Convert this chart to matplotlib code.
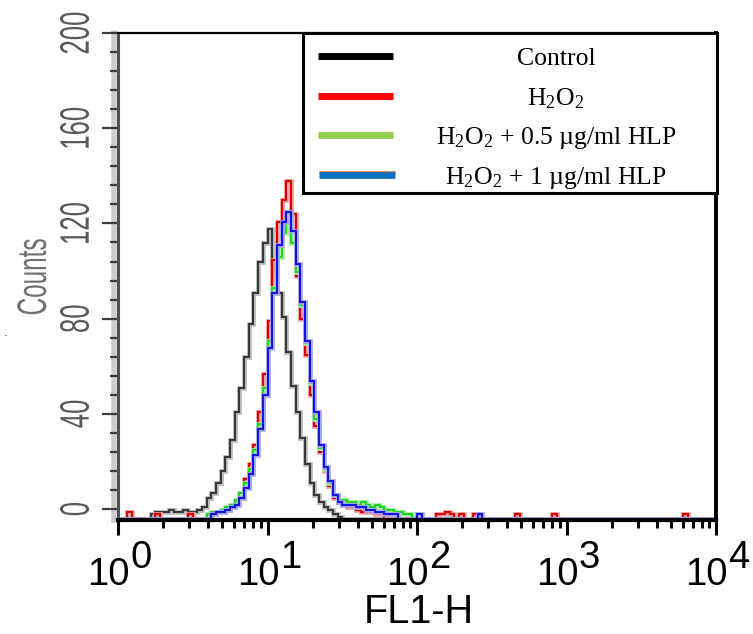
import numpy as np
import matplotlib
matplotlib.use("Agg")
import matplotlib.pyplot as plt
from matplotlib import transforms, patheffects
from matplotlib.patches import Rectangle
from matplotlib.ticker import LogLocator, NullFormatter, MultipleLocator

# histogram channels: 32 bins per decade, 10^0 .. 10^4
bins_per_decade = 32
n_bins = 128

# counts for bins 0..63 (10^0 .. 10^2)
control = [0, 0, 0, 0, 0, 0, 0, 2, 3, 3,
           3, 4, 3, 3, 4, 3, 3, 4, 5, 9,
           11, 15, 20, 26, 33, 45, 55, 68, 82, 95,
           108, 116, 122, 104, 95, 85, 70, 56, 45, 34,
           23, 15, 10, 7, 5, 4, 2, 1, 0, 0,
           0, 0, 0, 0, 0, 0, 0, 0, 0, 0, 0, 0, 0, 0]
h2o2 = [0, 0, 3, 0, 0, 0, 0, 0, 2, 0,
        0, 0, 0, 0, 0, 2, 0, 0, 0, 0,
        2, 3, 3, 4, 5, 7, 11, 17, 23, 31,
        45, 61, 83, 109, 125, 134, 142, 128, 102, 84,
        69, 52, 39, 28, 20, 14, 9, 7, 6, 5,
        5, 4, 3, 3, 3, 2, 2, 0, 0, 0, 0, 0, 0, 0]
hlp_05 = [0, 0, 0, 0, 0, 0, 0, 0, 0, 0,
          0, 0, 0, 0, 0, 0, 0, 0, 0, 2,
          3, 3, 4, 5, 6, 8, 11, 15, 21, 29,
          40, 55, 75, 97, 110, 120, 125, 116, 104, 90,
          74, 57, 42, 30, 21, 15, 10, 8, 8, 7,
          7, 6, 7, 6, 5, 6, 5, 4, 4, 3, 3, 2, 2, 0]
hlp_1 = [0, 0, 0, 0, 0, 0, 0, 0, 0, 0,
         0, 0, 0, 0, 0, 0, 0, 0, 0, 0,
         2, 3, 3, 4, 5, 6, 9, 13, 19, 27,
         38, 52, 72, 95, 115, 125, 129, 121, 107, 91,
         75, 58, 45, 31, 22, 16, 10, 7, 6, 6,
         6, 5, 5, 4, 4, 3, 3, 2, 2, 2, 0, 0, 0, 0]
# sparse events above 10^2 {bin: count}
h2o2_tail = {68: 2, 69: 2, 70: 3, 71: 2, 73: 2, 76: 2, 85: 2, 93: 2, 121: 2}
hlp_1_tail = {64: 2, 77: 2}

legend_labels = ["Control", r"H$_2$O$_2$", r"H$_2$O$_2$ + 0.5 µg/ml HLP",
                 r"H$_2$O$_2$ + 1 µg/ml HLP"]
decades = [0, 1, 2, 3, 4]

plt.rcParams["mathtext.fontset"] = "custom"
plt.rcParams["mathtext.rm"] = "Liberation Serif"
plt.rcParams["mathtext.it"] = "Liberation Serif:italic"


class Tall(patheffects.AbstractPathEffect):
    """stretch glyphs away from the baseline (the old cytometer font is tall and narrow)"""

    def __init__(self, sy):
        super().__init__()
        self.sy = sy

    def draw_path(self, renderer, gc, tpath, affine, rgbFace=None):
        renderer.draw_path(gc, tpath, transforms.Affine2D().scale(1, self.sy) + affine, rgbFace)


W, H = 753, 634
fig = plt.figure(figsize=(W / 100, H / 100), dpi=100)
ax = fig.add_axes([118 / W, 1 - 520 / H, 598 / W, 487 / H])

edges = 10 ** (np.arange(n_bins + 1) / bins_per_decade)
base = -4.2


def hist(counts, tail, core, halo, z):
    vals = np.zeros(n_bins)
    vals[:len(counts)] = counts
    for b, c in tail.items():
        vals[b] = c
    ax.stairs(vals + base, edges, baseline=None, color=halo, lw=3.4, zorder=z)
    ax.stairs(vals + base, edges, baseline=None, color=core, lw=1.5, zorder=z + 0.1)


hist(control, {}, "#383838", "#bcbcbc", 1.0)
hist(h2o2, h2o2_tail, "#dd0000", "#f4a0a0", 1.4)
hist(hlp_05, {}, "#1fd61f", "#a6f0a6", 1.8)
hist(hlp_1, hlp_1_tail, "#1515e0", "#a9a9f3", 2.2)

ax.set_xscale("log")
ax.set_xlim(1, 1e4)
ax.set_ylim(-4.6, 200)
ax.set_xticks([10 ** d for d in decades])
ax.xaxis.set_minor_locator(LogLocator(base=10, subs=np.arange(2, 10), numticks=20))
ax.xaxis.set_minor_formatter(NullFormatter())
ax.set_xticklabels([])
ax.yaxis.set_major_locator(MultipleLocator(40))
ax.yaxis.set_minor_locator(MultipleLocator(8))

ax.tick_params(axis="x", which="major", length=11, width=2.2, color="black")
ax.tick_params(axis="x", which="minor", length=5.5, width=2.2, color="black")
ax.tick_params(axis="y", which="major", length=11.5, width=1.6, color="#3c3c3c",
               pad=6, labelsize=18.5, labelcolor="#5a5a5a", labelrotation=90)
ax.tick_params(axis="y", which="minor", length=6, width=1.6, color="#3c3c3c")
for t in ax.get_yticklabels():
    t.set_family("Liberation Sans")
    t.set_va("center")
    t.set_path_effects([Tall(1.6)])

ax.spines["left"].set_color("#505050")
ax.spines["left"].set_linewidth(2.2)
ax.spines["bottom"].set_linewidth(3)
ax.spines["top"].set_linewidth(1.6)
ax.spines["right"].set_linewidth(2.8)
shadow = transforms.ScaledTranslation(-0.045, 0, fig.dpi_scale_trans)
ax.plot([0, 0], [0.0, 1.0], transform=ax.transAxes + shadow, color="#cccccc",
        lw=4, clip_on=False, zorder=0.5)

# x tick labels: "10" with a raised exponent of the same size
tb = transforms.blended_transform_factory(ax.transData, fig.transFigure)
for d in decades:
    ax.text(10 ** d, 1 - 585 / H, "10", ha="right", va="baseline", fontsize=27.5,
            family="Liberation Sans", color="black", clip_on=False,
            transform=tb + transforms.ScaledTranslation(0.12, 0, fig.dpi_scale_trans))
    ax.text(10 ** d, 1 - 568 / H, str(d), ha="left", va="baseline", fontsize=27.5,
            family="Liberation Sans", color="black", clip_on=False,
            transform=tb + transforms.ScaledTranslation(0.125, 0, fig.dpi_scale_trans))

fig.text(419 / W, 1 - 612 / H, "FL1-H", ha="center", va="center", fontsize=28.5,
         family="Liberation Sans", color="black")
fig.text(51 / W, 1 - 277 / H, "Counts", ha="right", va="center", rotation=90,
         fontsize=17.5, family="Liberation Sans", color="#707070",
         path_effects=[Tall(1.7)])
fig.text(6 / W, 1 - 336 / H, ".", ha="center", va="baseline", fontsize=8, color="black")

# legend box drawn inside the axes
ax.add_patch(Rectangle((185 / 598, 1 - 160 / 487), 414 / 598, 160 / 487,
                       transform=ax.transAxes, facecolor="white", edgecolor="black",
                       lw=2.2, zorder=10, clip_on=False))
legend_colors = ["black", "#ff0000", "#92d050", "#0070c0"]
rows = [56, 96, 135, 175]
for lab, col, r in zip(legend_labels, legend_colors, rows):
    yf = (520 - r) / 487
    if col == "#0070c0":
        ax.plot([201 / 598, 277 / 598], [yf, yf], transform=ax.transAxes +
                transforms.ScaledTranslation(0, 0.03, fig.dpi_scale_trans),
                color="#ed7d31", lw=2, zorder=11, solid_capstyle="butt")
        ax.plot([201 / 598, 277 / 598], [yf, yf], transform=ax.transAxes,
                color=col, lw=4.8, zorder=12, solid_capstyle="butt")
    else:
        ax.plot([200 / 598, 275 / 598], [yf, yf], transform=ax.transAxes,
                color=col, lw=5, zorder=11, solid_capstyle="butt")
    ax.text(438 / 598, (520 - r - 9) / 487, lab, transform=ax.transAxes,
            ha="center", va="baseline", fontsize=18.5, family="Liberation Serif",
            color="black", zorder=12)

fig.savefig("out.png", dpi=100)
